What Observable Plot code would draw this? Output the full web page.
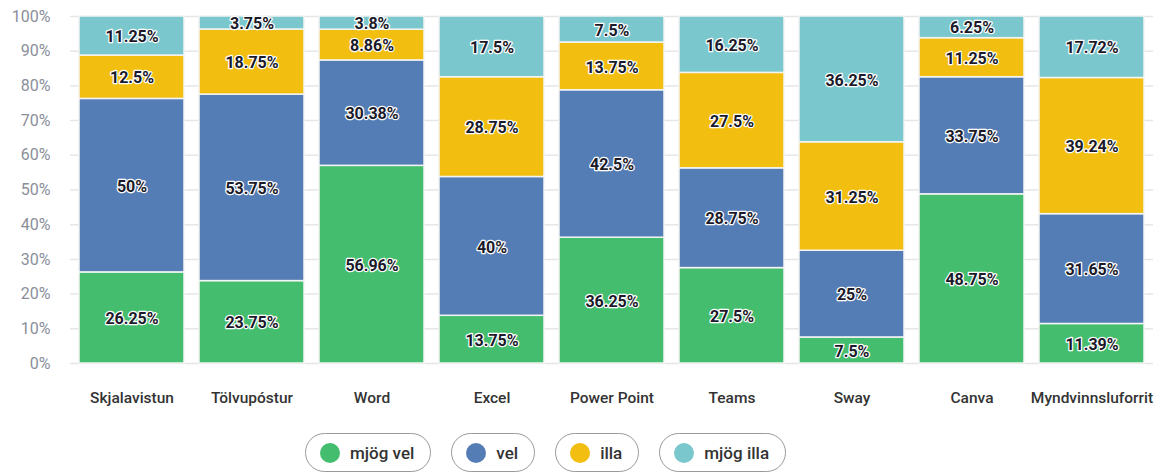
<!DOCTYPE html>
<html>
<head>
<meta charset="utf-8">
<script src="https://cdn.jsdelivr.net/npm/d3@7"></script>
<script src="https://cdn.jsdelivr.net/npm/@observablehq/plot@0.6"></script>
<style>
  body { margin: 0; background: #fff; font-family: Roboto, "Open Sans", sans-serif; }
  #chart svg { display: block; }
  .legend { display: flex; gap: 20px; margin-left: 305px; margin-top: 8px; }
  .pill { display: flex; align-items: center; height: 39px; box-sizing: border-box; border: 1.5px solid #9a9a9a; border-radius: 20px; padding: 0 16px 0 14px; font-size: 17px; font-weight: 500; color: #333; }
  .dot { width: 20px; height: 20px; border-radius: 50%; margin-right: 10px; }
</style>
</head>
<body>
<div id="chart"></div>
<div class="legend" id="legend"></div>
<script>
const categories = ["Skjalavistun", "Tölvupóstur", "Word", "Excel", "Power Point", "Teams", "Sway", "Canva", "Myndvinnsluforrit"];
const series = ["mjög vel", "vel", "illa", "mjög illa"];
const colors = ["#44be6e", "#557db5", "#f2be0f", "#7ac8cd"];
const mjogVel  = [26.25, 23.75, 56.96, 13.75, 36.25, 27.5, 7.5, 48.75, 11.39];
const vel      = [50, 53.75, 30.38, 40, 42.5, 28.75, 25, 33.75, 31.65];
const illa     = [12.5, 18.75, 8.86, 28.75, 13.75, 27.5, 31.25, 11.25, 39.24];
const mjogIlla = [11.25, 3.75, 3.8, 17.5, 7.5, 16.25, 36.25, 6.25, 17.72];
const yTicks = [0, 10, 20, 30, 40, 50, 60, 70, 80, 90, 100];

const valuesBySeries = [mjogVel, vel, illa, mjogIlla];
const data = [];
series.forEach((s, si) => {
  categories.forEach((c, ci) => data.push({category: c, series: s, value: valuesBySeries[si][ci]}));
});

const chart = Plot.plot({
  width: 1171,
  height: 425,
  marginLeft: 70,
  marginRight: 18,
  marginTop: 16,
  marginBottom: 62,
  style: {fontFamily: "Roboto, sans-serif", background: "#fff"},
  x: {domain: categories, paddingInner: 0.125, paddingOuter: 0.0625, label: null},
  y: {domain: [0, 100], label: null},
  color: {domain: series, range: colors},
  marks: [
    Plot.gridY(yTicks, {stroke: "#e6e6e6", strokeOpacity: 1, strokeWidth: 1.5}),
    Plot.axisY(yTicks, {tickSize: 0, tickPadding: 20, tickFormat: d => d + "%", fontSize: 16, fill: "#8a8f99", label: null}),
    Plot.axisX({tickSize: 0, tickPadding: 28, fontSize: 15.5, fontWeight: 500, fill: "#333", label: null}),
    Plot.barY(data, Plot.stackY({x: "category", y: "value", fill: "series", stroke: "#f4f4f4", strokeWidth: 1.5})),
    Plot.text(data, Plot.stackY({x: "category", y: "value", z: "series", text: d => d.value + "%", dy: 1, fontSize: 16, fontWeight: 700, fill: "#1a1a2a", stroke: "white", strokeWidth: 2.5}))
  ]
});
document.getElementById("chart").appendChild(chart);

const legend = document.getElementById("legend");
series.forEach((s, i) => {
  const pill = document.createElement("div");
  pill.className = "pill";
  const dot = document.createElement("span");
  dot.className = "dot";
  dot.style.background = colors[i];
  pill.appendChild(dot);
  pill.appendChild(document.createTextNode(s));
  legend.appendChild(pill);
});
</script>
</body>
</html>
